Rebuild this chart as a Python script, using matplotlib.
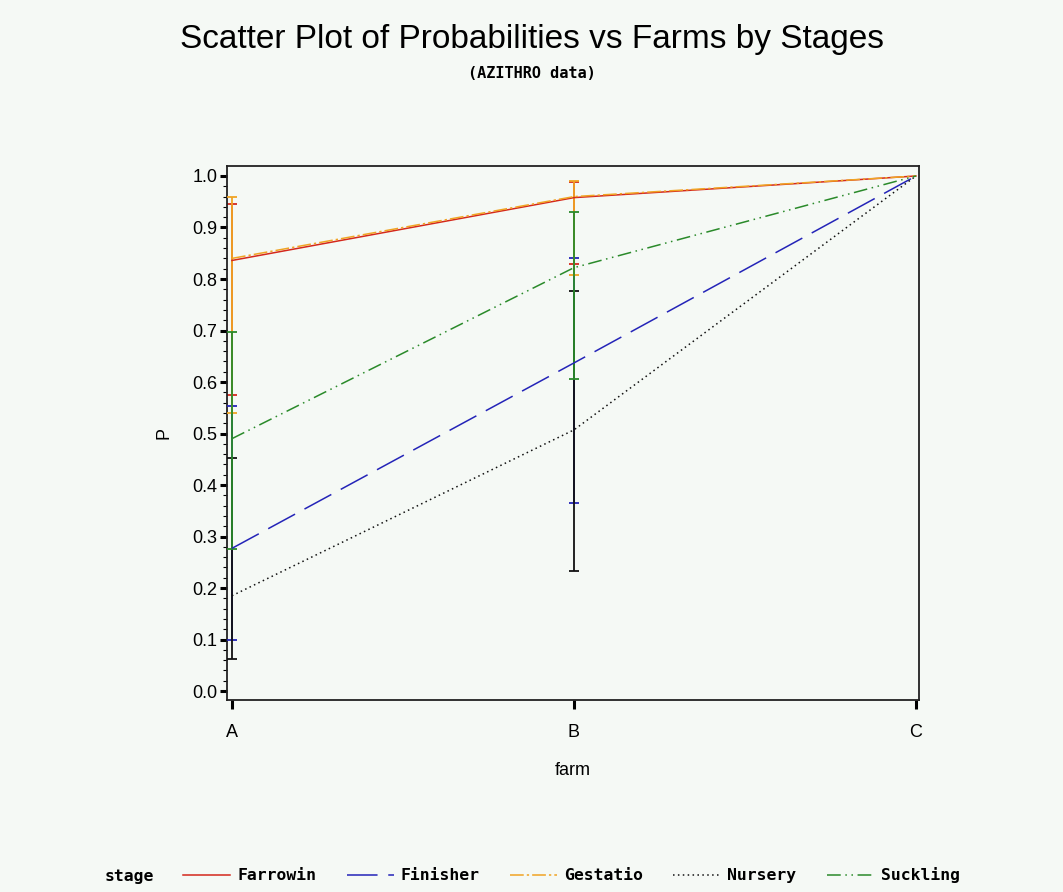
import matplotlib.pyplot as plt
from matplotlib.ticker import MultipleLocator

# data
farms = ['A', 'B', 'C']
stages = ['Farrowin', 'Finisher', 'Gestatio', 'Nursery', 'Suckling']

p_farrowin = [0.836, 0.958, 1.0]
p_finisher = [0.277, 0.637, 1.0]
p_gestatio = [0.840, 0.960, 1.0]
p_nursery = [0.185, 0.507, 1.0]
p_suckling = [0.490, 0.822, 1.0]

# confidence limits, farms A and B only
lo_farrowin = [0.574, 0.830]
hi_farrowin = [0.946, 0.988]
lo_finisher = [0.100, 0.366]
hi_finisher = [0.553, 0.841]
lo_gestatio = [0.539, 0.807]
hi_gestatio = [0.959, 0.991]
lo_nursery = [0.062, 0.233]
hi_nursery = [0.453, 0.777]
lo_suckling = [0.276, 0.605]
hi_suckling = [0.698, 0.930]

bg = '#f5f9f5'
plt.rcParams['font.family'] = ['Liberation Sans', 'DejaVu Sans']

fig = plt.figure(figsize=(10.63, 8.92), dpi=100, facecolor=bg)
ax = fig.add_axes([0.2135, 0.2152, 0.651, 0.5987], facecolor=bg)

styles = {
    'Farrowin': dict(color='#d4281c', dashes=(), z=2),
    'Finisher': dict(color='#2424b8', dashes=(20, 7), z=3),
    'Gestatio': dict(color='#f0a424', dashes=(9, 2, 1.5, 2), z=4),
    'Nursery': dict(color='#111111', dashes=(1, 2.2), z=5),
    'Suckling': dict(color='#2a8a2a', dashes=(9, 3, 1, 3, 1, 3), z=6),
}
series = {
    'Farrowin': (p_farrowin, lo_farrowin, hi_farrowin),
    'Finisher': (p_finisher, lo_finisher, hi_finisher),
    'Gestatio': (p_gestatio, lo_gestatio, hi_gestatio),
    'Nursery': (p_nursery, lo_nursery, hi_nursery),
    'Suckling': (p_suckling, lo_suckling, hi_suckling),
}

x = list(range(len(farms)))
handles = []
for s in stages:
    p, lo, hi = series[s]
    st = styles[s]
    ln, = ax.plot(x, p, color=st['color'], lw=1.1, zorder=st['z'] + 10, label=s)
    if st['dashes']:
        ln.set_dashes(st['dashes'])
    handles.append(ln)
    yerr = [[p[i] - lo[i] for i in range(2)], [hi[i] - p[i] for i in range(2)]]
    ax.errorbar(x[:2], p[:2], yerr=yerr, fmt='none', ecolor=st['color'],
                elinewidth=1.3, capsize=3.5, capthick=1.3, zorder=st['z'])

ax.set_xlim(-0.0146, 2.0088)
ax.set_ylim(-0.0175, 1.0194)
ax.set_xticks(x)
ax.set_xticklabels(farms)
ax.yaxis.set_major_locator(MultipleLocator(0.1))
ax.yaxis.set_minor_locator(MultipleLocator(0.02))
ax.yaxis.set_major_formatter(plt.FuncFormatter(lambda v, _: f'{v:.1f}'))
ax.tick_params(axis='y', which='major', direction='out', length=5, width=2.2,
               labelsize=13, pad=2)
ax.tick_params(axis='x', which='major', direction='out', length=6.5, width=2.2,
               labelsize=13, pad=11)
ax.tick_params(axis='y', which='minor', direction='out', length=3, width=0.8)
for sp in ax.spines.values():
    sp.set_linewidth(1.3)
    sp.set_color('#222222')

ax.set_xlabel('farm', fontsize=13, labelpad=15)
ax.set_ylabel('P', fontsize=13, labelpad=14)

fig.text(0.5, 0.946, 'Scatter Plot of Probabilities vs Farms by Stages',
         ha='center', va='baseline', fontsize=24)
fig.text(0.5, 0.912, '(AZITHRO data)', ha='center', va='baseline',
         fontsize=11, family='DejaVu Sans Mono', weight='bold')

fig.text(0.0988, 0.0127, 'stage', ha='left', va='baseline', fontsize=11.8,
         family='DejaVu Sans Mono', weight='bold')
fig.legend(handles=handles, labels=stages, loc='center left',
           bbox_to_anchor=(0.1646, 0.0185), ncol=5, frameon=False, borderpad=0,
           handlelength=2.87, handletextpad=0.43, columnspacing=1.85,
           prop={'family': 'DejaVu Sans Mono', 'size': 11.8, 'weight': 'bold'})

fig.savefig('out.png', dpi=100, facecolor=bg)
